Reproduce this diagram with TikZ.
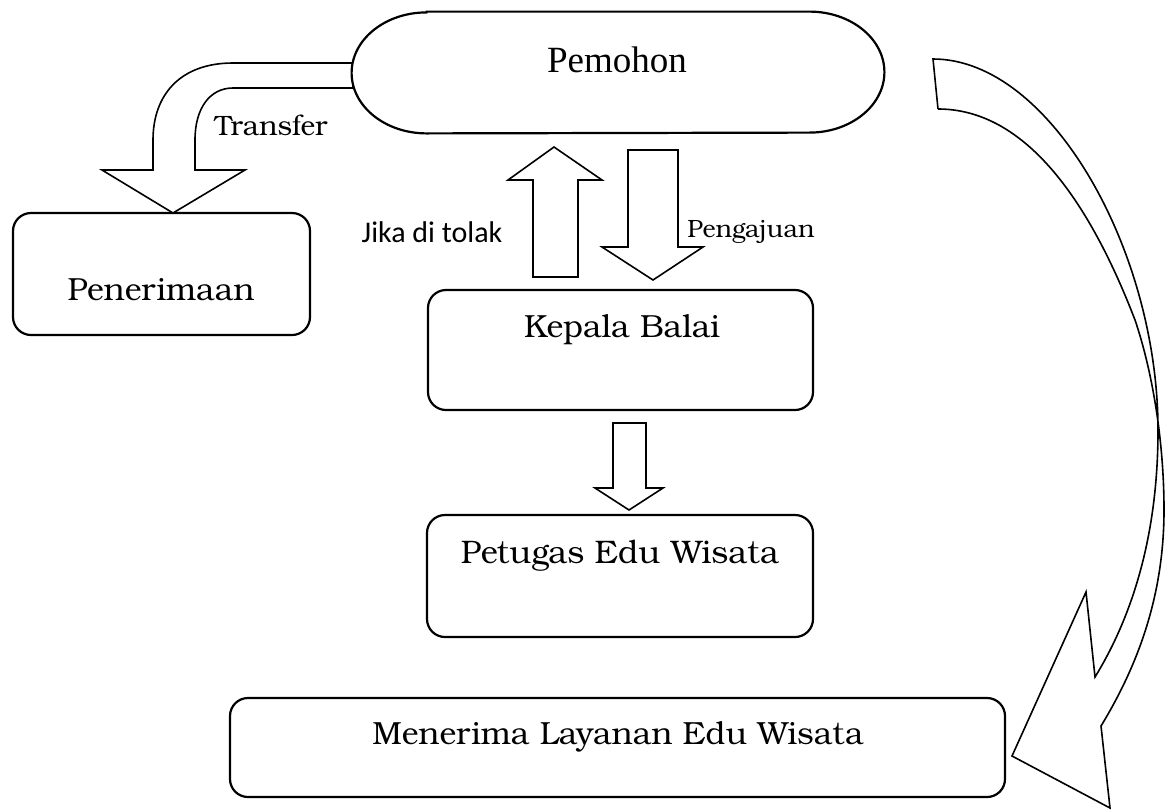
\documentclass[tikz,border=0pt]{standalone}
\usepackage{fontspec}
\setmainfont{Liberation Serif}
\newfontfamily\bkfont{texgyrebonum-regular.otf}
\newfontfamily\clfont{Carlito}
\usetikzlibrary{fit}

\tikzset{
  box/.style={draw, line width=1.1pt, rounded corners=9pt, inner sep=0pt},
  hidden/.style={inner sep=0pt},
  blockarrow/.style={draw, fill=white, line width=0.8pt, line join=miter},
  lbl/.style={anchor=base, inner sep=0pt},
}

\begin{document}
\begin{tikzpicture}[x=0.5pt, y=-0.5pt]
  \useasboundingbox (0,0) rectangle (1171,809);

  % boxes
  \node[hidden, fit={(352,12) (884,133)}] (pemohon) {};
  \node[box, fit={(13,213) (310,335)}] (penerimaan) {};
  \node[box, fit={(428,290) (813,410)}] (kepala) {};
  \node[box, fit={(427,515) (813,637)}] (petugas) {};
  \node[box, fit={(230,698) (1005,797)}] (menerima) {};

  % bent arrow towards Penerimaan
  \draw[blockarrow] (353,63) -- (233,63) .. controls (180,63) and (153,95) .. (153,140)
    -- (153,170) -- (102,170) -- (173,213) -- (245,170) -- (195,170) -- (195,140)
    .. controls (195,108) and (210,88) .. (233,88) -- (353,88) -- cycle;

  % terminator shape
  \draw[line width=1.1pt, fill=white]
    ([xshift=37.5pt]pemohon.north west) -- ([xshift=-37.5pt]pemohon.north east)
    arc[start angle=90, end angle=-90, x radius=37.5pt, y radius=30.25pt]
    -- ([xshift=37.5pt]pemohon.south west)
    arc[start angle=270, end angle=90, x radius=37.5pt, y radius=30.25pt] -- cycle;

  % up and down block arrows
  \draw[blockarrow] (533,277) -- (533,180) -- (508,180) -- (554,147) -- (602,180)
    -- (578,180) -- (578,277) -- cycle;
  \draw[blockarrow] (628,150) -- (678,150) -- (678,247) -- (703,247) -- (653,280)
    -- (602,247) -- (628,247) -- cycle;
  \draw[blockarrow] (613,423) -- (646,423) -- (646,488) -- (663,488) -- (629,510)
    -- (595,488) -- (613,488) -- cycle;

  % curved arrow on the right
  \draw[line width=0.8pt, line join=miter]
    (938,109) -- (933,59)
    .. controls (1050,59) and (1158,250) .. (1158,430)
    .. controls (1158,540) and (1130,620) .. (1095,677)
    -- (1086,592) -- (1012,756) -- (1110,808) -- (1101,726)
    .. controls (1135,670) and (1164,600) .. (1164,510)
    .. controls (1164,440) and (1152,370) .. (1135,320)
    .. controls (1085,190) and (1020,109) .. (938,109);

  % texts
  \node[lbl, font=\fontsize{18.5}{20}\selectfont] (tpemohon) at (617,72) {Pemohon};
  \node[lbl, font=\bkfont\fontsize{14}{16}\selectfont] (ttransfer) at (271,135) {Transfer};
  \node[lbl, font=\bkfont\fontsize{16}{18}\selectfont] (tpenerimaan) at (161,300) {Penerimaan};
  \node[lbl, font=\clfont\fontsize{15}{17}\selectfont] (tjika) at (432,242) {Jika di tolak};
  \node[lbl, font=\bkfont\fontsize{12.5}{14}\selectfont] (tpengajuan) at (751,237) {Pengajuan};
  \node[lbl, font=\bkfont\fontsize{16}{18}\selectfont] (tkepala) at (622,337) {Kepala Balai};
  \node[lbl, font=\bkfont\fontsize{16.3}{18}\selectfont] (tpetugas) at (620,563) {Petugas Edu Wisata};
  \node[lbl, font=\bkfont\fontsize{16}{18}\selectfont] (tmenerima) at (618,744) {Menerima Layanan Edu Wisata};
\end{tikzpicture}
\end{document}
